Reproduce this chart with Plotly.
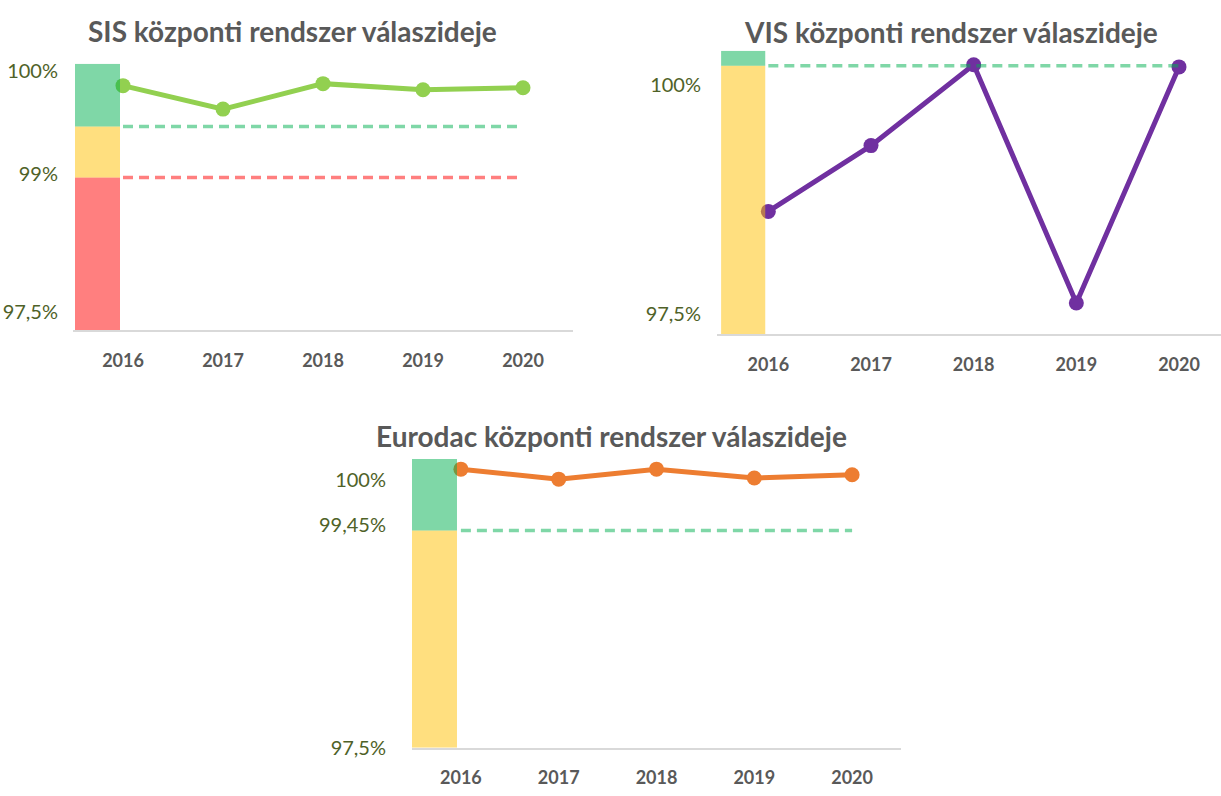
import plotly.graph_objects as go

# ---------------- data ----------------
years = ["2016", "2017", "2018", "2019", "2020"]

sis_values = [99.90, 99.67, 99.92, 99.86, 99.88]
sis_red_top = 99.0      # red band 97.5 -> 99
sis_green_min = 99.5    # yellow 99 -> 99.5, green above
sis_top = 100.115

vis_values = [98.64, 99.25, 100.0, 97.79, 99.98]
vis_green_min = 99.99
vis_top = 100.13

eurodac_values = [100.0, 99.91, 100.0, 99.92, 99.95]
eurodac_green_min = 99.45
eurodac_top = 100.09

axis_min = 97.5

sis_tick_labels = ["97,5%", "99%", "100%"]
vis_tick_labels = ["97,5%", "100%"]
eurodac_tick_labels = ["97,5%", "99,45%", "100%"]

titles = ["SIS központi rendszer válaszideje",
          "VIS központi rendszer válaszideje",
          "Eurodac központi rendszer válaszideje"]

# ---------------- styling / layout constants ----------------
W, H = 1221, 796
GREEN = "rgba(0,176,80,0.5)"
YELLOW = "rgba(255,192,0,0.5)"
RED = "rgba(255,0,0,0.5)"
TITLE_COLOR = "#595959"
TICK_Y_COLOR = "#4F6228"
AXIS_LINE = "#D9D9D9"
FONT = "Lato"

idx = list(range(len(years)))


def px_x(a, b):
    return [a / W, b / W]


def px_y(top, bottom):
    return [1 - bottom / H, 1 - top / H]


charts = [
    dict(values=sis_values, color="#92D050", xdom=px_x(73, 573), ydom=px_y(59, 331.5),
         xrange=[-0.5, 4.5], yrange=[axis_min, sis_top],
         bands=[(axis_min, sis_red_top, RED), (sis_red_top, sis_green_min, YELLOW), (sis_green_min, sis_top, GREEN)],
         dashes=[(sis_green_min, GREEN), (sis_red_top, RED)],
         bar_c=-0.255, bar_w=0.45,
         tickpos=[97.678, 99.034, 100.043], ticktext=sis_tick_labels, ticklen=10,
         title_xy=(292, 26)),
    dict(values=vis_values, color="#7030A0", xdom=px_x(717, 1221), ydom=px_y(45.7, 335.5),
         xrange=[-0.5, 4.409], yrange=[axis_min, vis_top],
         bands=[(axis_min, vis_green_min, YELLOW), (vis_green_min, vis_top, GREEN)],
         dashes=[(vis_green_min, GREEN)],
         bar_c=-0.245, bar_w=0.43,
         tickpos=[97.686, 99.81], ticktext=vis_tick_labels, ticklen=11,
         title_xy=(951, 27)),
    dict(values=eurodac_values, color="#ED7D31", xdom=px_x(412, 901), ydom=px_y(463, 758),
         xrange=[-0.5, 4.5], yrange=[axis_min, eurodac_top],
         bands=[(axis_min, eurodac_green_min, YELLOW), (eurodac_green_min, eurodac_top, GREEN)],
         dashes=[(eurodac_green_min, GREEN)],
         bar_c=-0.27, bar_w=0.46,
         tickpos=[97.5, 99.495, 99.899], ticktext=eurodac_tick_labels, ticklen=21,
         title_xy=(611, 439)),
]

fig = go.Figure()
layout = dict(
    width=W, height=H, margin=dict(l=0, r=0, t=0, b=0),
    paper_bgcolor="white", plot_bgcolor="rgba(0,0,0,0)",
    showlegend=False, barmode="overlay", annotations=[],
)

n = len(charts)
for i, c in enumerate(charts):
    base_id = i + 1
    over_id = i + 1 + n
    xb = "x" if base_id == 1 else f"x{base_id}"
    yb = "y" if base_id == 1 else f"y{base_id}"
    xo, yo = f"x{over_id}", f"y{over_id}"

    # main line
    fig.add_trace(go.Scatter(
        x=idx, y=c["values"], xaxis=xb, yaxis=yb, mode="lines+markers",
        line=dict(color=c["color"], width=5),
        marker=dict(color=c["color"], size=15),
        hoverinfo="skip"))

    # threshold bands (drawn above the line, semi-transparent)
    for lo, hi, col in c["bands"]:
        fig.add_trace(go.Bar(
            x=[c["bar_c"]], y=[hi - lo], base=[lo], width=[c["bar_w"]],
            xaxis=xo, yaxis=yo, marker=dict(color=col, line=dict(width=0)),
            hoverinfo="skip"))
    # dashed threshold lines
    for val, col in c["dashes"]:
        fig.add_trace(go.Scatter(
            x=[idx[0], idx[-1]], y=[val, val], xaxis=xo, yaxis=yo, mode="lines",
            line=dict(color=col, width=3.5, dash="10px,6px"), hoverinfo="skip"))

    xkey = "xaxis" if base_id == 1 else f"xaxis{base_id}"
    ykey = "yaxis" if base_id == 1 else f"yaxis{base_id}"
    layout[xkey] = dict(
        domain=c["xdom"], anchor=yb, range=c["xrange"], showgrid=False, zeroline=False,
        showline=True, linecolor=AXIS_LINE, linewidth=2,
        tickmode="array", tickvals=idx, ticktext=years,
        ticks="outside", ticklen=13, tickcolor="rgba(0,0,0,0)",
        tickfont=dict(family=FONT, size=18, color=TITLE_COLOR, weight="bold"))
    layout[ykey] = dict(
        domain=c["ydom"], anchor=xb, range=c["yrange"], showgrid=False, zeroline=False,
        showline=False, tickmode="array", tickvals=c["tickpos"], ticktext=c["ticktext"],
        ticks="outside", ticklen=c["ticklen"], tickcolor="rgba(0,0,0,0)",
        tickfont=dict(family=FONT, size=20, color=TICK_Y_COLOR))
    layout[f"xaxis{over_id}"] = dict(
        domain=c["xdom"], anchor=yo, overlaying=xb, range=c["xrange"], visible=False)
    layout[f"yaxis{over_id}"] = dict(
        domain=c["ydom"], anchor=xo, overlaying=yb, range=c["yrange"], visible=False)

    tx, ty = c["title_xy"]
    layout["annotations"].append(dict(
        text=titles[i], x=tx / W, y=1 - ty / H, xref="paper", yref="paper",
        xanchor="center", yanchor="middle", showarrow=False,
        font=dict(family=FONT, size=28, color=TITLE_COLOR, weight="bold")))

fig.update_layout(**layout)

post_js = (
    "var d=document.getElementById('{plot_id}');"
    "d.style.position='fixed';d.style.left='0px';d.style.top='0px';"
    "document.documentElement.style.margin='0';document.documentElement.style.padding='0';"
    "document.documentElement.style.overflow='hidden';"
    "document.body.style.margin='0';document.body.style.padding='0';"
    "document.body.style.overflow='hidden';"
    "document.documentElement.style.height='796px';document.body.style.height='796px';"
)
fig.write_html("out.html", config={"displayModeBar": False}, post_script=post_js)
